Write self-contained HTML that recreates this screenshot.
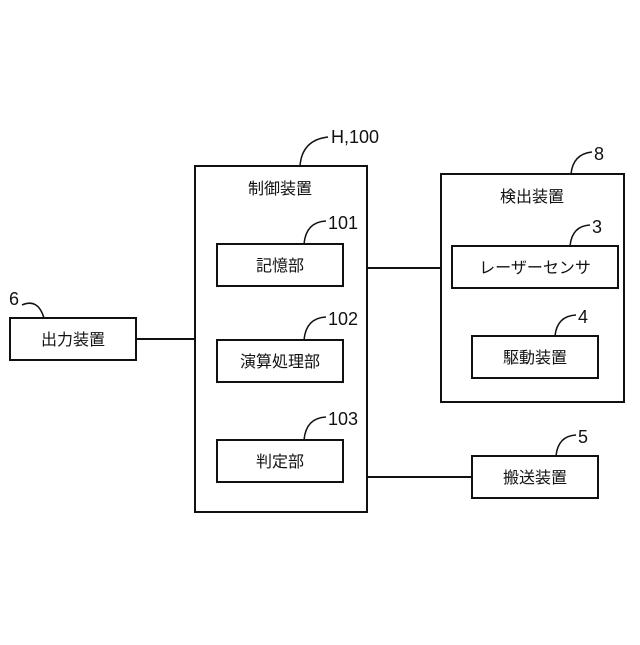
<!DOCTYPE html>
<html><head><meta charset="utf-8"><style>
body{margin:0;background:#fff}
svg text{font-family:"Liberation Sans","Noto Sans CJK JP",sans-serif;fill:#111}
</style></head><body>
<svg width="640" height="640" viewBox="0 0 640 640" xmlns="http://www.w3.org/2000/svg">
<g fill="none" stroke="#111" stroke-width="2">
<rect x="195" y="166" width="172" height="346"/>
<rect x="217" y="244" width="126" height="42"/>
<rect x="217" y="340" width="126" height="42"/>
<rect x="217" y="440" width="126" height="42"/>
<rect x="441" y="174" width="183" height="228"/>
<rect x="452" y="246" width="166" height="42"/>
<rect x="472" y="336" width="126" height="42"/>
<rect x="472" y="456" width="126" height="42"/>
<rect x="10" y="318" width="126" height="42"/>
<line x1="367" y1="268" x2="441" y2="268"/>
<line x1="136" y1="339" x2="195" y2="339"/>
<line x1="367" y1="477" x2="472" y2="477"/>
</g>
<g fill="none" stroke="#111" stroke-width="1.5">
<path d="M300 166 Q302 140 328 137"/>
<path d="M304 244 Q306 222 326 221"/>
<path d="M304 340 Q306 318 326 317"/>
<path d="M304 440 Q306 418 326 417"/>
<path d="M571 174 Q573 154 592 152"/>
<path d="M570 246 Q572 226 590 225"/>
<path d="M555 336 Q557 316 576 315"/>
<path d="M556 456 Q558 436 576 435"/>
<path d="M22 305 Q38 298 44 318"/>
</g>
<g font-size="18">
<text x="331" y="143">H,100</text>
<text x="328" y="229">101</text>
<text x="328" y="325">102</text>
<text x="328" y="425">103</text>
<text x="594" y="160">8</text>
<text x="592" y="233">3</text>
<text x="578" y="323">4</text>
<text x="578" y="443">5</text>
<text x="9" y="305">6</text>
</g>
<g font-size="16" text-anchor="middle">
<text x="280" y="194">制御装置</text>
<text x="280" y="271">記憶部</text>
<text x="280" y="367">演算処理部</text>
<text x="280" y="467">判定部</text>
<text x="532" y="202">検出装置</text>
<text x="535" y="273">レーザーセンサ</text>
<text x="535" y="363">駆動装置</text>
<text x="535" y="483">搬送装置</text>
<text x="73" y="345">出力装置</text>
</g>
</svg>
</body></html>
